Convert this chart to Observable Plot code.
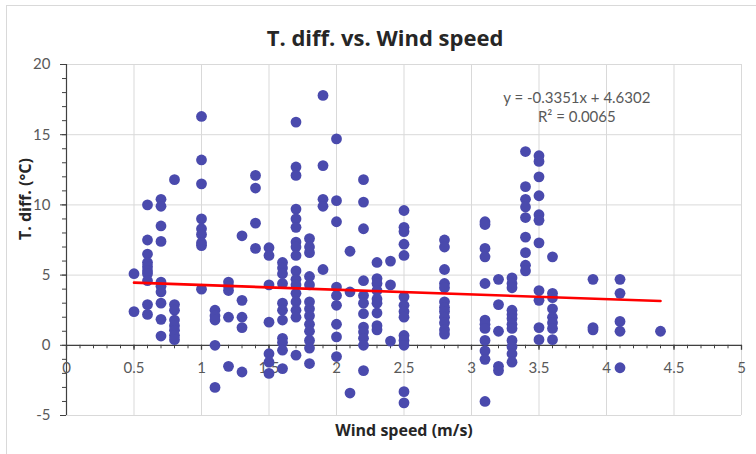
<!DOCTYPE html>
<html>
<head>
<meta charset="utf-8">
<script src="https://cdn.jsdelivr.net/npm/d3@7"></script>
<script src="https://cdn.jsdelivr.net/npm/@observablehq/plot@0.6"></script>
<style>
  body { margin: 0; width: 756px; height: 454px; overflow: hidden; position: relative; background: #fff; }
  #frame { position: absolute; left: 6px; top: 5px; width: 900px; height: 700px; border: 1px solid #d9d9d9; pointer-events: none; }
  #title { height: 50px; box-sizing: border-box; padding-top: 23px; padding-left: 14px; text-align: center;
           font-family: "Open Sans", sans-serif; font-weight: 700; font-size: 22px; line-height: 28px; color: #262626; }
  #chart svg { display: block; }
</style>
</head>
<body>
<div id="frame"></div>
<div id="title">T. diff. vs. Wind speed</div>
<div id="chart"></div>
<script>
// ---- data ----
const windSpeed = [
  0.5, 0.5,
  0.6, 0.6, 0.6, 0.6, 0.6, 0.6, 0.6, 0.6, 0.6, 0.6,
  0.7, 0.7, 0.7, 0.7, 0.7, 0.7, 0.7, 0.7, 0.7, 0.7,
  0.8, 0.8, 0.8, 0.8, 0.8, 0.8, 0.8, 0.8,
  1.0, 1.0, 1.0, 1.0, 1.0, 1.0, 1.0, 1.0, 1.0,
  1.1, 1.1, 1.1, 1.1, 1.1,
  1.2, 1.2, 1.2, 1.2, 1.2,
  1.3, 1.3, 1.3, 1.3, 1.3,
  1.4, 1.4, 1.4, 1.4,
  1.5, 1.5, 1.5, 1.5, 1.5, 1.5, 1.5,
  1.6, 1.6, 1.6, 1.6, 1.6, 1.6, 1.6, 1.6, 1.6, 1.6, 1.6,
  1.7, 1.7, 1.7, 1.7, 1.7, 1.7, 1.7, 1.7, 1.7, 1.7, 1.7, 1.7, 1.7, 1.7, 1.7, 1.7, 1.7,
  1.8, 1.8, 1.8, 1.8, 1.8, 1.8, 1.8, 1.8, 1.8, 1.8, 1.8, 1.8, 1.8,
  1.9, 1.9, 1.9, 1.9, 1.9,
  2.0, 2.0, 2.0, 2.0, 2.0, 2.0, 2.0, 2.0, 2.0,
  2.1, 2.1, 2.1,
  2.2, 2.2, 2.2, 2.2, 2.2, 2.2, 2.2, 2.2, 2.2, 2.2, 2.2, 2.2,
  2.3, 2.3, 2.3, 2.3, 2.3, 2.3, 2.3, 2.3, 2.3,
  2.4, 2.4, 2.4,
  2.5, 2.5, 2.5, 2.5, 2.5, 2.5, 2.5, 2.5, 2.5, 2.5, 2.5, 2.5, 2.5, 2.5,
  2.8, 2.8, 2.8, 2.8, 2.8, 2.8, 2.8, 2.8, 2.8, 2.8, 2.8, 2.8,
  3.1, 3.1, 3.1, 3.1, 3.1, 3.1, 3.1, 3.1, 3.1, 3.1, 3.1, 3.1,
  3.2, 3.2, 3.2, 3.2, 3.2,
  3.3, 3.3, 3.3, 3.3, 3.3, 3.3, 3.3, 3.3, 3.3, 3.3, 3.3, 3.3,
  3.4, 3.4, 3.4, 3.4, 3.4, 3.4, 3.4, 3.4, 3.4,
  3.5, 3.5, 3.5, 3.5, 3.5, 3.5, 3.5, 3.5, 3.5, 3.5, 3.5,
  3.6, 3.6, 3.6, 3.6, 3.6, 3.6, 3.6, 3.6,
  3.9, 3.9, 3.9,
  4.1, 4.1, 4.1, 4.1, 4.1,
  4.4
];
const tempDiff = [
  5.1, 2.4,
  10.0, 7.5, 6.5, 5.9, 5.6, 5.3, 5.1, 4.6, 2.9, 2.2,
  10.4, 9.9, 8.5, 7.4, 4.5, 4.2, 3.8, 3.0, 1.85, 0.66,
  11.8, 2.9, 2.5, 1.8, 1.4, 1.07, 0.7, 0.4,
  16.3, 13.2, 11.5, 9.0, 8.3, 7.9, 7.3, 7.1, 4.0,
  2.5, 2.1, 1.8, 0.0, -3.0,
  4.5, 4.2, 3.9, 2.0, -1.5,
  7.8, 3.2, 2.0, 1.26, -1.9,
  12.1, 11.2, 8.7, 6.9,
  6.95, 6.4, 4.3, 1.65, -0.6, -1.2, -2.0,
  5.9, 5.5, 5.1, 4.4, 3.0, 2.5, 1.8, 0.5, 0.2, -0.35, -1.66,
  15.9, 12.7, 12.1, 9.7, 9.0, 8.4, 7.35, 7.0, 6.4, 5.3, 4.7, 4.3, 3.7, 3.1, 2.5, 2.0, -0.7,
  7.6, 7.0, 6.6, 4.9, 4.3, 3.1, 2.6, 2.1, 1.5, 1.0, 0.35, -0.2, -1.3,
  17.8, 12.8, 10.4, 9.9, 5.4,
  14.7, 10.3, 8.8, 4.15, 3.55, 2.85, 1.5, 0.6, -0.8,
  6.7, 3.8, -3.4,
  11.8, 10.2, 8.3, 4.6, 3.55, 3.0, 2.25, 1.3, 0.95, 0.5, 0.0, -1.8,
  5.9, 4.75, 4.4, 3.9, 3.3, 3.0, 2.3, 1.4, 1.1,
  6.0, 4.3, 0.3,
  9.6, 8.4, 8.1, 7.2, 6.4, 3.45, 2.85, 2.4, 2.0, 0.7, 0.35, 0.0, -3.3, -4.1,
  7.5, 7.0, 5.4, 4.4, 4.1, 3.1, 2.7, 2.4, 2.0, 1.6, 1.1, 0.8,
  8.8, 8.6, 6.9, 6.3, 4.4, 1.8, 1.5, 1.2, 0.35, -0.4, -1.0, -4.0,
  4.7, 2.9, 1.0, -1.5, -1.8,
  4.8, 4.4, 4.1, 2.5, 2.2, 1.9, 1.5, 1.2, 0.35, -0.1, -0.6, -1.2,
  13.8, 11.3, 10.4, 9.85, 9.1, 7.7, 6.6, 5.7, 5.3,
  13.5, 13.1, 12.0, 10.65, 9.3, 8.9, 7.3, 3.9, 3.2, 1.26, 0.4,
  6.3, 3.7, 3.4, 2.6, 2.0, 1.6, 1.2, 0.4,
  4.7, 1.26, 1.1,
  4.7, 3.7, 1.7, 1.0, -1.6,
  1.0
];
// trendline as given by the chart's own equation
const trendSlope = -0.3351;
const trendIntercept = 4.6302;
const trendRange = [0.5, 4.4];
const equationText = ["y = -0.3351x + 4.6302\nR\u00B2 = 0.0065"];

const xTickLabels = [0, 0.5, 1, 1.5, 2, 2.5, 3, 3.5, 4, 4.5, 5];
const yTickLabels = [-5, 0, 5, 10, 15, 20];
const xMinorTicks = d3.range(0, 50.5, 1).map(d => d / 10);
const yMinorTicks = d3.range(-5, 21, 1);

const points = windSpeed.map((x, i) => ({x, y: tempDiff[i]}));
const trend = trendRange.map(x => ({x, y: trendSlope * x + trendIntercept}));

const axisColor = "#404040";
const textGray = "#595959";

const chart = Plot.plot({
  width: 756,
  height: 404,
  marginLeft: 66,
  marginRight: 15,
  marginTop: 14,
  marginBottom: 39,
  style: {background: "transparent", fontFamily: "Lato, sans-serif", fontSize: "15px", overflow: "visible"},
  x: {domain: [0, 5], axis: null},
  y: {domain: [-5, 20], axis: null},
  marks: [
    Plot.gridX(xTickLabels.slice(1), {stroke: "#d9d9d9", strokeOpacity: 1, strokeWidth: 1}),
    Plot.gridY(yTickLabels, {stroke: "#d9d9d9", strokeOpacity: 1, strokeWidth: 1}),
    // y axis
    Plot.ruleX([0], {stroke: axisColor, strokeWidth: 1.2}),
    Plot.axisY({ticks: yMinorTicks, tickSize: 4, text: null, label: null, stroke: axisColor}),
    Plot.axisY({ticks: yTickLabels, tickSize: 6, tickPadding: 10, label: null, stroke: axisColor,
                fill: textGray, tickFormat: d => String(d), fontSize: 15}),
    // x axis drawn at y = 0
    Plot.ruleY([0], {stroke: axisColor, strokeWidth: 1.2}),
    Plot.ruleX(xMinorTicks, {x: d => d, y1: 0, y2: 0, insetBottom: -3.5, stroke: axisColor}),
    Plot.ruleX(xTickLabels, {x: d => d, y1: 0, y2: 0, insetBottom: -5, stroke: axisColor, strokeWidth: 1.3}),
    Plot.text(xTickLabels, {x: d => d, y: 0, dy: 23, text: d => String(d), fill: textGray, fontSize: 15}),
    // data
    Plot.dot(points, {x: "x", y: "y", r: 5.4, fill: "#4a4aad", stroke: "none"}),
    Plot.line(trend, {x: "x", y: "y", stroke: "#ff0000", strokeWidth: 2.6}),
    Plot.text(equationText, {x: 3.78, y: 17.0, text: d => d, fill: textGray, fontSize: 15, lineHeight: 1.22}),
    // axis titles
    Plot.text(["T. diff. (\u00B0C)"], {frameAnchor: "left", dx: -41, rotate: -90, text: d => d,
      fontFamily: "Open Sans, sans-serif", fontWeight: "bold", fontSize: 16, fill: "#262626"}),
    Plot.text(["Wind speed (m/s)"], {frameAnchor: "bottom", dy: 20, text: d => d,
      fontFamily: "Open Sans, sans-serif", fontWeight: "bold", fontSize: 16, fill: "#262626"})
  ]
});
document.getElementById("chart").appendChild(chart);
</script>
</body>
</html>
